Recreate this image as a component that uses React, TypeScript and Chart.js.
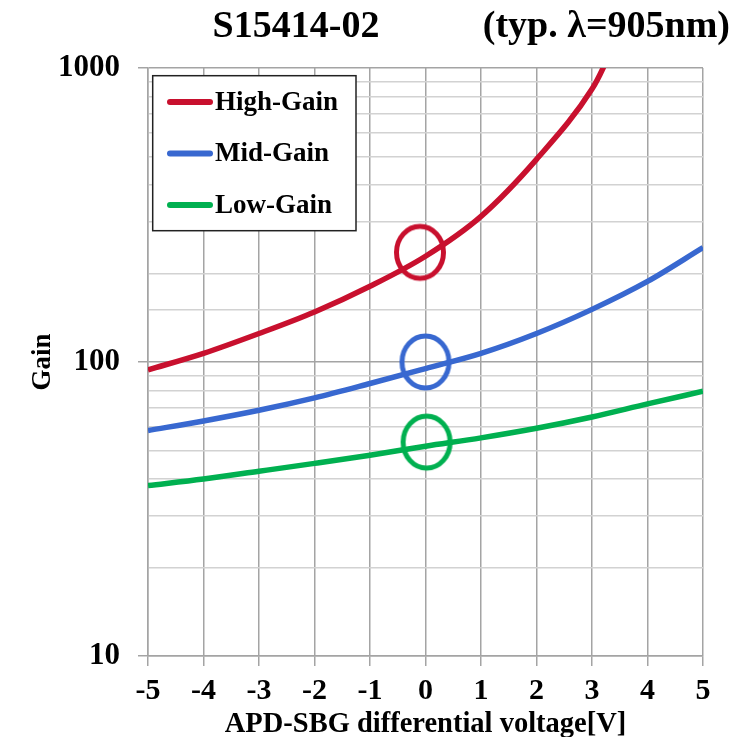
import { useEffect, useRef } from 'react';
import { Chart, registerables } from 'chart.js';

Chart.register(...registerables);

// ---- data ----
const highVoltage = [-5, -4, -3, -2, -1, 0, 1, 2, 3, 3.2, 3.5];
const highGain = [94, 107, 125, 148, 181, 229, 313, 489, 848, 1000, 1365];
const voltage = [-5, -4, -3, -2, -1, 0, 1, 2, 3, 4, 5];
const midGain = [58.5, 63, 68.5, 75.5, 84.5, 95, 107, 125, 151, 188, 245];
const lowGain = [38, 40, 42.5, 45.2, 48.2, 51.7, 55.2, 59.5, 65, 72, 79.5];
const markerVoltage = [-0.1, 0.0, 0.02];
const markerGain = [236, 100, 53.4];
const seriesLabels = ['High-Gain', 'Mid-Gain', 'Low-Gain'];
const seriesColors = ['#c8102e', '#3868d0', '#00b050'];
const xMin = -5;
const xMax = 5;
const yMin = 10;
const yMax = 1000;
const titleLeft = 'S15414-02';
const titleRight = '(typ. \u03bb=905nm)';
const xTitle = 'APD-SBG differential voltage[V]';
const yTitle = 'Gain';

const FONT = "'Liberation Serif', 'Times New Roman', serif";
const GRID_MAJOR = '#a4a4a4';
const GRID_MINOR = '#d2d2d2';

const isMajor = (v: number) => {
  const l = Math.log10(v);
  return Math.abs(l - Math.round(l)) < 1e-6;
};

function ringImage(color: string) {
  const c = document.createElement('canvas');
  c.width = 60;
  c.height = 64;
  const g = c.getContext('2d')!;
  g.strokeStyle = color;
  g.lineWidth = 5;
  g.beginPath();
  g.ellipse(30, 32, 23.5, 26, 0, 0, Math.PI * 2);
  g.stroke();
  return c;
}

const headerPlugin = {
  id: 'header',
  afterDraw(chart: any) {
    const { ctx, chartArea } = chart;
    ctx.save();
    ctx.fillStyle = '#000';
    ctx.font = `bold 38px ${FONT}`;
    ctx.textBaseline = 'middle';
    ctx.textAlign = 'center';
    ctx.fillText(titleLeft, chartArea.left + 148, 19);
    ctx.textAlign = 'right';
    ctx.fillText(titleRight, chartArea.right + 27, 19);
    ctx.restore();
  },
};

const boxLegendPlugin = {
  id: 'boxLegend',
  afterDraw(chart: any) {
    const { ctx, chartArea } = chart;
    const bx = chartArea.left + 4.7;
    const by = chartArea.top + 7.7;
    ctx.save();
    ctx.fillStyle = '#fff';
    ctx.fillRect(bx, by, 203.3, 155);
    ctx.strokeStyle = '#222';
    ctx.lineWidth = 1.5;
    ctx.strokeRect(bx, by, 203.3, 155);
    const rows = [34, 85.5, 137];
    seriesLabels.forEach((label, i) => {
      const y = chartArea.top + rows[i];
      ctx.strokeStyle = seriesColors[i];
      ctx.lineWidth = 6;
      ctx.lineCap = 'round';
      ctx.beginPath();
      ctx.moveTo(chartArea.left + 22, y);
      ctx.lineTo(chartArea.left + 62, y);
      ctx.stroke();
      ctx.fillStyle = '#000';
      ctx.font = `bold 27px ${FONT}`;
      ctx.textAlign = 'left';
      ctx.textBaseline = 'middle';
      ctx.fillText(label, chartArea.left + 67, y + 1);
    });
    ctx.restore();
  },
};

export default function App() {
  const ref = useRef<HTMLCanvasElement | null>(null);

  useEffect(() => {
    if (!ref.current) return;
    const curve = (xs: number[], ys: number[], i: number) => ({
      label: seriesLabels[i],
      data: xs.map((x, k) => ({ x, y: ys[k] })),
      borderColor: seriesColors[i],
      backgroundColor: seriesColors[i],
      borderWidth: 5.5,
      pointRadius: 0,
      showLine: true,
      fill: false,
      cubicInterpolationMode: 'monotone' as const,
    });
    const markers = markerVoltage.map((x, i) => ({
      label: seriesLabels[i] + ' marker',
      data: [{ x, y: markerGain[i] }],
      pointStyle: ringImage(seriesColors[i]),
      pointRadius: 26,
      borderColor: seriesColors[i],
      backgroundColor: 'rgba(0,0,0,0)',
      showLine: false,
    }));

    const chart = new Chart(ref.current, {
      type: 'scatter',
      data: {
        datasets: [
          curve(highVoltage, highGain, 0),
          curve(voltage, midGain, 1),
          curve(voltage, lowGain, 2),
          ...markers,
        ] as any,
      },
      options: {
        responsive: false,
        animation: false,
        events: [],
        layout: { padding: { top: 60, right: 42, left: 0, bottom: 0 } },
        plugins: {
          legend: { display: false },
          title: { display: false },
          tooltip: { enabled: false },
        },
        scales: {
          x: {
            type: 'linear',
            min: xMin,
            max: xMax,
            afterFit: (s: any) => {
              s.height = 81;
            },
            ticks: {
              stepSize: 1,
              color: '#000',
              padding: 7,
              font: { family: FONT, size: 30, weight: 'bold' },
            },
            grid: {
              color: GRID_MAJOR,
              lineWidth: 1.5,
              tickLength: 10,
              tickColor: GRID_MAJOR,
            },
            border: { color: GRID_MAJOR, width: 1.5 },
            title: {
              display: true,
              text: xTitle,
              color: '#000',
              padding: 0,
              font: { family: FONT, size: 28.5, weight: 'bold', lineHeight: 0.84 },
            },
          },
          y: {
            type: 'logarithmic',
            min: yMin,
            max: yMax,
            afterFit: (s: any) => {
              s.width = 140;
            },
            ticks: {
              autoSkip: false,
              color: '#000',
              padding: 18,
              font: { family: FONT, size: 31, weight: 'bold' },
              callback: (v: any) => (isMajor(Number(v)) ? String(v) : ''),
            },
            grid: {
              color: (c: any) => (c.tick && isMajor(c.tick.value) ? GRID_MAJOR : GRID_MINOR),
              lineWidth: 1.5,
              tickLength: 10,
              tickColor: (c: any) => (c.tick && isMajor(c.tick.value) ? GRID_MAJOR : 'rgba(0,0,0,0)'),
            },
            border: { color: GRID_MAJOR, width: 1.5 },
            title: {
              display: true,
              text: yTitle,
              color: '#000',
              padding: { top: 19, bottom: 0 },
              font: { family: FONT, size: 27, weight: 'bold' },
            },
          },
        },
      },
      plugins: [headerPlugin, boxLegendPlugin],
    });
    return () => chart.destroy();
  }, []);

  return (
    <div style={{ width: 737, height: 729 }}>
      <canvas ref={ref} width={737} height={729} style={{ display: 'block' }} />
    </div>
  );
}
